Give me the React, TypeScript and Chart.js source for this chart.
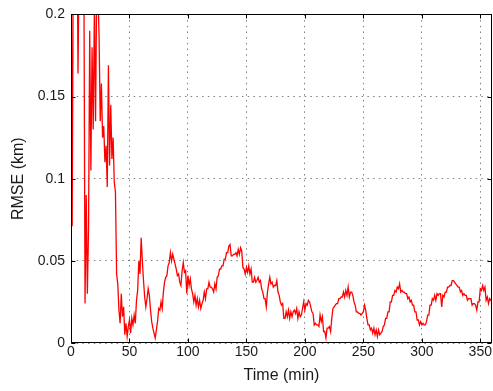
import React, { useEffect, useRef } from 'react';
import { Chart, registerables } from 'chart.js';

Chart.register(...registerables);

// RMSE of the position estimate, one sample per minute (km)
const rmseKm = [
  0.26, 0.071, 0.25, 0.28, 0.23, 0.27, 0.164, 0.24, 0.29, 0.22,
  0.26, 0.23, 0.024, 0.09, 0.03, 0.07, 0.19, 0.105, 0.18, 0.13,
  0.205, 0.135, 0.22, 0.215, 0.187, 0.135, 0.158, 0.125, 0.132, 0.11,
  0.12, 0.095, 0.169, 0.108, 0.145, 0.112, 0.125, 0.098, 0.092, 0.042,
  0.036, 0.02, 0.012, 0.03, 0.016, 0.022, 0.005, 0.012, 0.004, 0.01,
  0.014, 0.006, 0.015, 0.011, 0.017, 0.012, 0.026, 0.032, 0.05, 0.042,
  0.064, 0.05, 0.038, 0.028, 0.022, 0.027, 0.033, 0.029, 0.02, 0.013,
  0.009, 0.006, 0.003, 0.008, 0.013, 0.021, 0.02, 0.025, 0.021, 0.031,
  0.037, 0.04, 0.041, 0.047, 0.049, 0.055, 0.05, 0.054, 0.051, 0.048,
  0.045, 0.041, 0.042, 0.037, 0.035, 0.044, 0.049, 0.043, 0.044, 0.03,
  0.041, 0.035, 0.039, 0.033, 0.03, 0.025, 0.029, 0.023, 0.027, 0.022,
  0.026, 0.021, 0.024, 0.026, 0.031, 0.027, 0.033, 0.033, 0.037, 0.034,
  0.034, 0.033, 0.031, 0.036, 0.033, 0.04, 0.041, 0.045, 0.045, 0.047,
  0.047, 0.051, 0.051, 0.055, 0.055, 0.059, 0.06, 0.053, 0.053, 0.054,
  0.054, 0.055, 0.053, 0.057, 0.054, 0.058, 0.056, 0.046, 0.045, 0.042,
  0.046, 0.043, 0.047, 0.042, 0.045, 0.037, 0.037, 0.04, 0.037, 0.038,
  0.04, 0.037, 0.038, 0.033, 0.031, 0.027, 0.027, 0.022, 0.031, 0.036,
  0.04, 0.036, 0.037, 0.034, 0.035, 0.035, 0.038, 0.031, 0.029, 0.025,
  0.023, 0.024, 0.015, 0.015, 0.019, 0.016, 0.02, 0.015, 0.019, 0.016,
  0.019, 0.02, 0.018, 0.021, 0.015, 0.019, 0.016, 0.017, 0.021, 0.025,
  0.02, 0.024, 0.023, 0.026, 0.025, 0.022, 0.019, 0.018, 0.011, 0.012,
  0.011, 0.011, 0.01, 0.017, 0.013, 0.016, 0.007, 0.007, 0.003, 0.009,
  0.009, 0.01, 0.007, 0.015, 0.021, 0.022, 0.023, 0.024, 0.024, 0.027,
  0.027, 0.028, 0.028, 0.031, 0.028, 0.032, 0.029, 0.034, 0.028, 0.031,
  0.031, 0.029, 0.025, 0.023, 0.019, 0.019, 0.018, 0.018, 0.017, 0.018,
  0.019, 0.023, 0.02, 0.015, 0.011, 0.011, 0.008, 0.009, 0.006, 0.009,
  0.005, 0.008, 0.004, 0.008, 0.005, 0.006, 0.007, 0.01, 0.011, 0.015,
  0.015, 0.019, 0.019, 0.025, 0.025, 0.029, 0.029, 0.032, 0.031, 0.034,
  0.033, 0.036, 0.031, 0.032, 0.031, 0.031, 0.03, 0.03, 0.027, 0.028,
  0.025, 0.026, 0.023, 0.023, 0.019, 0.019, 0.014, 0.014, 0.011, 0.013,
  0.011, 0.012, 0.011, 0.011, 0.013, 0.017, 0.017, 0.023, 0.023, 0.027,
  0.026, 0.029, 0.026, 0.03, 0.029, 0.03, 0.03, 0.022, 0.029, 0.028,
  0.031, 0.031, 0.034, 0.034, 0.035, 0.035, 0.038, 0.038, 0.037, 0.036,
  0.035, 0.034, 0.034, 0.031, 0.032, 0.029, 0.03, 0.029, 0.029, 0.026,
  0.027, 0.027, 0.027, 0.023, 0.024, 0.024, 0.023, 0.02, 0.025, 0.025,
  0.033, 0.032, 0.035, 0.032, 0.034, 0.026, 0.028, 0.024, 0.027, 0.026, 0.027,
];

const SAMPLE_STEP_MIN = 1;

const xTickValues = [0, 50, 100, 150, 200, 250, 300, 350];
const xTickLabels = ['0', '50', '100', '150', '200', '250', '300', '350'];
const yTickValues = [0, 0.05, 0.1, 0.15, 0.2];
const yTickLabels = ['0', '0.05', '0.1', '0.15', '0.2'];

const X_MAX = 360;
const Y_MAX = 0.2;
const FONT = '"Liberation Sans", Arial, Helvetica, sans-serif';
const TEXT = '#1a1a1a';

// Box around the axes with inward tick marks on all four sides
const axesBox = {
  id: 'axesBox',
  afterDraw(chart: any) {
    const { ctx, chartArea: a, scales } = chart;
    const L = Math.round(a.left) + 0.5;
    const R = Math.round(a.right) - 0.5;
    const T = Math.round(a.top) + 0.5;
    const B = Math.round(a.bottom) - 0.5;
    const len = 4;
    ctx.save();
    ctx.strokeStyle = '#000';
    ctx.lineWidth = 1;
    ctx.beginPath();
    for (const v of xTickValues) {
      const x = Math.round(scales.x.getPixelForValue(v)) + 0.5;
      ctx.moveTo(x, B);
      ctx.lineTo(x, B - len);
      ctx.moveTo(x, T);
      ctx.lineTo(x, T + len);
    }
    for (const v of yTickValues) {
      const y = Math.round(scales.y.getPixelForValue(v)) + 0.5;
      ctx.moveTo(L, y);
      ctx.lineTo(L + len, y);
      ctx.moveTo(R, y);
      ctx.lineTo(R - len, y);
    }
    ctx.stroke();
    ctx.strokeRect(L, T, R - L, B - T);
    ctx.restore();
  },
};

export default function App() {
  const canvasRef = useRef<HTMLCanvasElement>(null);

  useEffect(() => {
    const canvas = canvasRef.current;
    if (!canvas) return;
    const points = rmseKm.map((v, i) => ({ x: i * SAMPLE_STEP_MIN, y: v }));
    const chart = new Chart(canvas, {
      type: 'line',
      data: {
        datasets: [
          {
            data: points,
            borderColor: '#ff0000',
            borderWidth: 1.3,
            pointRadius: 0,
            tension: 0,
            fill: false,
          },
        ],
      },
      options: {
        responsive: false,
        animation: false,
        events: [],
        layout: { padding: { top: 11, right: 1, left: 0, bottom: 0 } },
        plugins: { legend: { display: false }, tooltip: { enabled: false } },
        scales: {
          x: {
            type: 'linear',
            min: 0,
            max: X_MAX,
            afterBuildTicks: (s: any) => {
              s.ticks = xTickValues.map((value) => ({ value }));
            },
            afterFit: (s: any) => {
              s.height = 48;
            },
            ticks: {
              autoSkip: false,
              maxRotation: 0,
              padding: 1,
              color: TEXT,
              font: { family: FONT, size: 14 },
              callback: (v: any) => xTickLabels[xTickValues.indexOf(Number(v))] ?? '',
            },
            grid: {
              drawTicks: false,
              color: 'rgba(0,0,0,0.5)',
              lineWidth: 1,
            },
            border: { display: false, dash: [1.5, 4.2] },
            title: {
              display: true,
              text: 'Time (min)',
              color: TEXT,
              font: { family: FONT, size: 16 },
              padding: { top: 0, bottom: 6 },
            },
          },
          y: {
            type: 'linear',
            min: 0,
            max: Y_MAX,
            afterBuildTicks: (s: any) => {
              s.ticks = yTickValues.map((value) => ({ value }));
            },
            afterFit: (s: any) => {
              s.width = 71;
            },
            ticks: {
              autoSkip: false,
              padding: 6,
              color: TEXT,
              font: { family: FONT, size: 14 },
              callback: (v: any) => {
                const i = yTickValues.findIndex((t) => Math.abs(t - Number(v)) < 1e-9);
                return i >= 0 ? yTickLabels[i] : '';
              },
            },
            grid: {
              drawTicks: false,
              color: 'rgba(0,0,0,0.5)',
              lineWidth: 1,
            },
            border: { display: false, dash: [1.5, 4.2] },
            title: {
              display: true,
              text: 'RMSE (km)',
              color: TEXT,
              font: { family: FONT, size: 16 },
              padding: { top: 9, bottom: 0 },
            },
          },
        },
      },
      plugins: [axesBox],
    });
    return () => chart.destroy();
  }, []);

  return (
    <div style={{ position: 'fixed', left: 0, top: 0, width: 493, height: 391, background: '#fff' }}>
      <canvas ref={canvasRef} width={493} height={391} style={{ display: 'block' }} />
    </div>
  );
}
